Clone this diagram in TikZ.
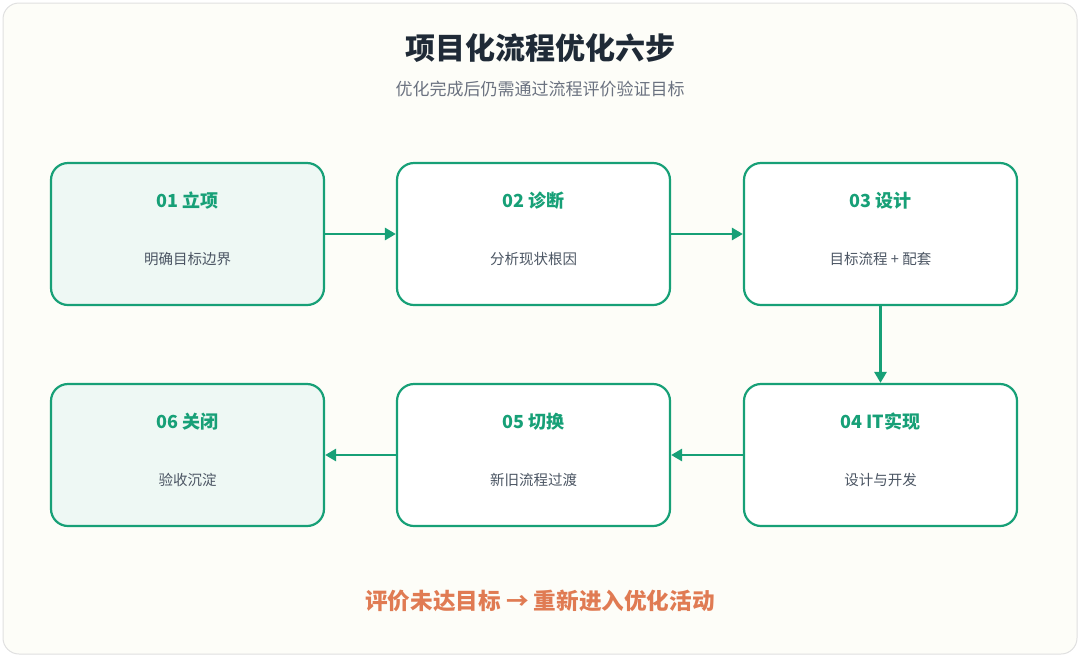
\documentclass[tikz,border=0pt]{standalone}
\usepackage{fontspec}
\setmainfont{Noto Sans CJK SC}
\usetikzlibrary{arrows.meta}
\definecolor{grn}{HTML}{17A077}
\definecolor{lgrn}{HTML}{EEF8F4}
\definecolor{bg}{HTML}{FDFDF8}
\definecolor{ttl}{HTML}{1F2A37}
\definecolor{sub}{HTML}{6B7280}
\definecolor{txt}{HTML}{4B5563}
\definecolor{org}{HTML}{E07B53}
\begin{document}
\begin{tikzpicture}[x=1pt,y=-1pt,
 box/.style={draw=grn,line width=2.2pt,rounded corners=17pt,minimum width=273pt,minimum height=142pt,inner sep=0pt},
 bt/.style={font=\fontsize{18}{21}\selectfont\bfseries,text=grn},
 bs/.style={font=\fontsize{14.5}{17}\selectfont,text=txt},
 arr/.style={draw=grn,line width=2.8pt,-{Triangle[length=11pt,width=12pt]}}]
\useasboundingbox (0,0) rectangle (1080,657);
\draw[fill=bg,draw=black!12,line width=1pt,rounded corners=16pt] (3,3) rectangle (1077,654);
\node[font=\fontsize{30}{35}\selectfont\bfseries,text=ttl] (title) at (540,48) {项目化流程优化六步};
\node[font=\fontsize{17}{20}\selectfont,text=sub] (subt) at (540,89) {优化完成后仍需通过流程评价验证目标};
\foreach \n/\x/\y/\f/\t/\s in {b1/187.5/234/lgrn/01 立项/明确目标边界, b2/533.5/234/white/02 诊断/分析现状根因, b3/880.5/234/white/03 设计/目标流程 + 配套, b4/880.5/455/white/04 IT实现/设计与开发, b5/533.5/455/white/05 切换/新旧流程过渡, b6/187.5/455/lgrn/06 关闭/验收沉淀}{
 \node[box,fill=\f] (\n) at (\x,\y) {};
 \node[bt] (\n t) at (\x,\y-33) {\t};
 \node[bs] (\n s) at (\x,\y+25) {\s};
}
\draw[arr] (b1) -- (b2);
\draw[arr] (b2) -- (b3);
\draw[arr] (b3) -- (b4);
\draw[arr] (b4) -- (b5);
\draw[arr] (b5) -- (b6);
\node[font=\fontsize{22.6}{26}\selectfont\bfseries,text=org] (note) at (540,601) {评价未达目标 → 重新进入优化活动};
\end{tikzpicture}
\end{document}
